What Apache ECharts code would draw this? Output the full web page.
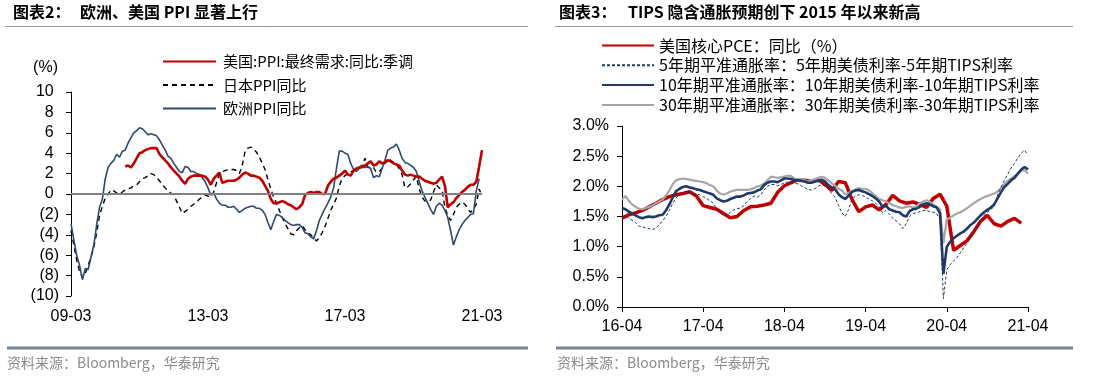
<!DOCTYPE html>
<html><head><meta charset="utf-8">
<script src="https://cdn.jsdelivr.net/npm/echarts@6/dist/echarts.min.js"></script>
<style>html,body{margin:0;padding:0;background:#fff}#c{width:1099px;height:386px}</style>
</head><body><div id="c"></div><script>
const LAT = '"Liberation Sans", "Noto Sans CJK SC", sans-serif';
const CJK = '"Noto Sans CJK SC", "Liberation Sans", sans-serif';

// ---------- Left chart data (monthly, 2009-03 .. 2021-03) ----------
const leftTickLabels = ['09-03', '13-03', '17-03', '21-03'];
const leftNames = ['美国:PPI:最终需求:同比:季调', '日本PPI同比', '欧洲PPI同比'];
const usPPI = [
  null,null,null,null,null,null,null,null,null,null,
  null,null,null,null,null,null,null,null,null,2.7,
  2.8,2.6,3.0,3.5,4.0,4.1,4.3,4.4,4.5,4.5,
  4.5,3.9,3.6,3.3,3.0,2.6,2.3,2.0,1.7,1.3,
  1.0,1.5,1.7,1.8,1.8,1.8,1.8,1.7,1.4,0.9,
  1.5,1.8,2.1,1.1,1.2,1.3,1.3,1.3,1.4,1.6,
  1.9,2.1,2.0,1.8,1.8,1.7,1.6,1.3,0.8,0.3,
  -0.5,-0.9,-0.9,-0.8,-0.7,-0.8,-1.0,-1.1,-1.3,-1.5,
  -1.3,-1.0,-0.1,0.1,0.2,0.1,0.2,0.2,0.0,0.0,
  0.8,1.2,1.5,1.6,1.8,2.0,2.3,1.9,1.8,2.3,
  2.5,2.6,2.7,2.8,3.0,3.2,2.8,2.9,3.2,3.0,
  3.1,3.3,3.2,3.0,2.9,2.8,2.3,1.9,1.8,1.9,
  1.8,1.7,1.7,1.5,1.3,1.2,1.1,1.0,1.1,1.4,
  1.7,0.8,-1.3,-1.0,-0.8,-0.4,-0.1,0.2,0.4,0.7,
  0.9,0.9,1.2,2.7,4.3
];
const japanPPI = [
  -3.6,-5.0,-6.5,-7.6,-8.2,-7.8,-7.0,-6.2,-5.2,-3.8,
  -2.1,-1.2,-0.4,0.0,0.4,0.3,0.1,0.0,0.2,0.4,
  0.5,0.6,0.8,0.9,1.2,1.5,1.6,1.8,2.0,1.9,
  1.6,1.3,0.9,0.6,0.3,0.1,-0.1,-0.7,-1.3,-1.9,
  -1.7,-1.5,-1.2,-1.0,-0.8,-0.5,-0.3,-0.1,-0.2,-0.3,
  0.2,1.1,2.0,2.2,2.3,2.4,2.4,2.4,2.3,2.0,
  2.8,4.2,4.5,4.6,4.4,4.1,3.6,3.0,2.4,1.4,
  0.5,-0.3,-0.9,-1.6,-2.3,-2.9,-3.4,-3.9,-4.0,-3.6,
  -3.3,-3.1,-3.5,-3.8,-4.0,-4.3,-4.6,-4.3,-3.8,-3.2,
  -2.4,-1.6,-1.0,-0.4,0.8,1.5,1.8,2.0,2.2,2.3,
  2.4,2.6,2.8,3.5,2.6,2.6,2.6,2.1,2.2,2.5,
  3.0,3.5,3.3,3.1,2.9,2.5,1.9,0.6,0.7,1.0,
  1.4,1.7,0.5,-0.3,-0.7,-0.7,-0.6,0.2,0.9,0.6,
  0.4,-1.3,-2.1,-2.6,-2.0,-1.3,-1.0,-0.8,-1.0,-1.4,
  -1.8,-1.5,-1.0,0.5,-0.2
];
const euroPPI = [
  -2.9,-4.5,-6.0,-7.0,-8.4,-7.3,-7.4,-6.2,-5.0,-3.0,
  -1.3,-0.5,1.5,2.6,3.0,3.3,3.9,3.6,4.2,4.3,
  5.0,5.5,6.0,6.2,6.5,6.4,6.1,5.8,5.9,5.8,
  5.7,5.3,4.8,4.3,3.7,3.5,3.0,2.6,2.2,2.1,
  2.7,2.6,2.2,2.2,2.0,1.9,1.6,1.2,0.6,-0.1,
  0.1,-0.5,-0.9,-1.1,-1.1,-1.3,-1.3,-1.2,-1.5,-1.8,
  -1.6,-1.4,-1.3,-1.2,-1.2,-1.4,-1.4,-1.6,-2.0,-2.8,
  -3.5,-2.7,-2.0,-2.1,-2.3,-2.6,-2.8,-3.0,-3.1,-3.0,
  -3.0,-3.3,-3.8,-3.9,-4.2,-4.4,-3.6,-2.6,-2.0,-1.4,
  -0.9,-0.3,0.6,2.5,4.2,4.2,4.0,3.9,3.0,2.4,
  2.2,2.5,2.6,2.6,2.7,2.5,1.6,1.8,1.7,2.5,
  3.3,4.3,4.5,4.6,4.9,4.3,3.5,3.1,3.0,2.8,
  2.6,2.2,1.2,0.3,-0.3,-0.9,-1.5,-2.0,-1.2,-0.9,
  -1.1,-1.6,-2.3,-3.6,-5.0,-4.2,-3.5,-3.0,-2.6,-2.3,
  -2.0,-1.9,0.3,1.5,null
];

// ---------- Right chart data ----------
const rightTickLabels = ['16-04', '17-04', '18-04', '19-04', '20-04', '21-04'];
const rightNames = ['美国核心PCE：同比（%）',
  '5年期平准通胀率：5年期美债利率-5年期TIPS利率',
  '10年期平准通胀率：10年期美债利率-10年期TIPS利率',
  '30年期平准通胀率：30年期美债利率-30年期TIPS利率'];
// monthly, 2016-04 .. 2021-03 (%)
const corePCE = [
  1.47,1.53,1.56,1.60,1.66,1.72,1.78,1.83,1.86,1.88,
  1.91,1.84,1.68,1.65,1.62,1.55,1.48,1.50,1.60,1.66,
  1.67,1.69,1.72,1.90,2.01,2.06,2.11,2.10,2.08,2.11,
  2.03,1.93,2.08,2.06,1.78,1.58,1.66,1.69,1.61,1.70,
  1.85,1.76,1.72,1.74,1.70,1.65,1.80,1.87,1.67,0.94,
  1.02,1.10,1.25,1.42,1.52,1.38,1.34,1.42,1.47,1.39
];
// semi-monthly (1st and 16th), 2016-04-01 .. 2021-04-01 (%)
const be5y = [
  1.50,1.52,1.47,1.44,1.40,1.34,1.33,1.31,1.30,1.28,
  1.31,1.36,1.43,1.50,1.60,1.72,1.81,1.86,1.90,1.92,
  1.90,1.89,1.87,1.86,1.83,1.80,1.76,1.72,1.62,1.56,
  1.51,1.52,1.57,1.61,1.63,1.64,1.68,1.75,1.80,1.84,
  1.82,1.86,1.94,2.00,2.03,2.03,2.01,2.03,2.06,2.07,
  2.07,2.05,2.04,2.01,1.98,1.95,1.94,1.96,2.00,2.03,
  2.00,1.95,1.88,1.82,1.68,1.56,1.50,1.62,1.79,1.84,
  1.86,1.85,1.82,1.79,1.76,1.72,1.66,1.56,1.60,1.54,
  1.47,1.43,1.38,1.30,1.38,1.50,1.55,1.56,1.58,1.60,
  1.60,1.58,1.57,1.55,1.45,0.14,0.62,0.70,0.76,0.82,
  0.90,0.98,1.06,1.16,1.24,1.34,1.44,1.52,1.57,1.62,
  1.66,1.86,1.98,2.10,2.20,2.30,2.38,2.47,2.55,2.60,
  2.52
];
const be10y = [
  1.64,1.62,1.58,1.55,1.52,1.49,1.47,1.49,1.50,1.49,
  1.50,1.52,1.53,1.60,1.70,1.82,1.92,1.96,1.99,2.00,
  1.98,1.97,1.95,1.94,1.92,1.90,1.88,1.86,1.80,1.77,
  1.75,1.76,1.79,1.81,1.83,1.83,1.85,1.88,1.89,1.90,
  1.93,1.95,2.02,2.06,2.08,2.08,2.07,2.10,2.13,2.13,
  2.12,2.10,2.10,2.09,2.08,2.06,2.06,2.08,2.09,2.11,
  2.08,2.02,1.98,1.95,1.87,1.82,1.79,1.85,1.91,1.93,
  1.94,1.92,1.90,1.87,1.84,1.80,1.75,1.66,1.68,1.62,
  1.60,1.58,1.57,1.52,1.50,1.59,1.62,1.63,1.66,1.70,
  1.72,1.70,1.67,1.65,1.55,0.55,1.00,1.08,1.14,1.18,
  1.22,1.25,1.30,1.36,1.40,1.46,1.52,1.57,1.61,1.65,
  1.70,1.80,1.90,1.99,2.04,2.10,2.14,2.21,2.28,2.32,
  2.28
];
const be30y = [
  1.78,1.84,1.76,1.70,1.66,1.63,1.62,1.64,1.66,1.68,
  1.72,1.75,1.78,1.85,1.93,2.04,2.10,2.12,2.13,2.12,
  2.11,2.10,2.09,2.08,2.07,2.05,2.02,2.00,1.93,1.88,
  1.86,1.88,1.91,1.93,1.94,1.94,1.94,1.94,1.95,1.97,
  2.00,2.01,2.05,2.10,2.16,2.15,2.14,2.15,2.16,2.18,
  2.17,2.13,2.12,2.12,2.10,2.08,2.10,2.12,2.14,2.16,
  2.14,2.10,2.05,2.01,1.96,1.93,1.87,1.89,1.92,1.95,
  1.97,1.96,1.96,1.93,1.89,1.84,1.79,1.77,1.75,1.72,
  1.69,1.67,1.65,1.64,1.66,1.67,1.65,1.67,1.72,1.75,
  1.77,1.74,1.70,1.66,1.62,1.06,1.45,1.48,1.52,1.55,
  1.57,1.60,1.64,1.68,1.72,1.76,1.79,1.82,1.84,1.86,
  1.88,1.91,1.97,2.04,2.09,2.13,2.17,2.21,2.26,2.27,
  2.21
];

// ---------- categories ----------
const leftCats = [];
for (let i = 0; i < usPPI.length; i++) {
  const mi = 2 + i; const y = 2009 + Math.floor(mi / 12); const m = mi % 12 + 1;
  leftCats.push(y + '-' + String(m).padStart(2, '0'));
}
const rightCats = [];
for (let i = 0; i < be5y.length; i++) {
  const mi = 3 + Math.floor(i / 2); const y = 2016 + Math.floor(mi / 12); const m = mi % 12 + 1;
  rightCats.push(y + '-' + String(m).padStart(2, '0') + (i % 2 ? '-16' : '-01'));
}
const pceSemi = rightCats.map((_, i) => (i % 2 === 0 && (i / 2) < corePCE.length) ? corePCE[i / 2] : null);

const chart = echarts.init(document.getElementById('c'), null, { renderer: 'canvas' });

const axisLab = { color: '#000', fontSize: 16, fontFamily: LAT };

chart.setOption({
  animation: false,
  backgroundColor: '#fff',
  textStyle: { fontFamily: LAT },
  grid: [
    { left: 71, right: 617, top: 92, bottom: 90 },
    { left: 622, right: 71, top: 126, bottom: 79 }
  ],
  legend: [
    {
      orient: 'vertical', left: 157, top: 49, itemWidth: 53, itemHeight: 16, itemGap: 8.5,
      itemStyle: { opacity: 0 },
      textStyle: { fontSize: 15, fontFamily: CJK, color: '#000', padding: [0, 0, 0, 2] },
      data: leftNames, selectedMode: false
    },
    {
      orient: 'vertical', left: 596, top: 32.5, itemWidth: 52, itemHeight: 16, itemGap: 3.8,
      itemStyle: { opacity: 0 },
      textStyle: { fontSize: 16, fontFamily: CJK, color: '#000', padding: [0, 0, 0, 0] },
      data: rightNames, selectedMode: false
    }
  ],
  xAxis: [
    {
      gridIndex: 0, type: 'category', data: leftCats, boundaryGap: false,
      axisLine: { show: false }, axisTick: { show: false },
      axisLabel: Object.assign({}, axisLab, { interval: 47, margin: 13,
        formatter: (v, i) => leftTickLabels[Math.round(i / 48)] }),
      splitLine: { show: false }
    },
    {
      gridIndex: 1, type: 'category', data: rightCats, boundaryGap: false,
      axisLine: { show: true, lineStyle: { color: '#000', width: 1 } },
      axisTick: { show: true, interval: 23, length: 5, lineStyle: { color: '#000' } },
      axisLabel: Object.assign({}, axisLab, { interval: 23, margin: 12,
        formatter: (v, i) => rightTickLabels[Math.round(i / 24)] }),
      splitLine: { show: false }
    }
  ],
  yAxis: [
    {
      gridIndex: 0, type: 'value', min: -10, max: 10, interval: 2,
      axisLine: { show: true, lineStyle: { color: '#000', width: 1 } },
      axisTick: { show: true, length: 5, lineStyle: { color: '#000' } },
      axisLabel: Object.assign({}, axisLab, { margin: 12,
        formatter: v => v < 0 ? '(' + Math.abs(v) + ')' : v + '{h|)}',
        rich: { h: { color: 'rgba(0,0,0,0)', fontSize: 16, fontFamily: LAT } } }),
      splitLine: { show: false },
      name: '(%)', nameLocation: 'end', nameGap: 16,
      nameTextStyle: { color: '#000', fontSize: 16, fontFamily: LAT, align: 'right', padding: [0, 13, 0, 0] }
    },
    {
      gridIndex: 1, type: 'value', min: 0, max: 3, interval: 0.5,
      axisLine: { show: true, lineStyle: { color: '#000', width: 1 } },
      axisTick: { show: true, length: 5, lineStyle: { color: '#000' } },
      axisLabel: Object.assign({}, axisLab, { margin: 13, formatter: v => v.toFixed(1) + '%' }),
      splitLine: { show: false }
    }
  ],
  series: [
    {
      name: leftNames[1], type: 'line', xAxisIndex: 0, yAxisIndex: 0, data: japanPPI,
      symbol: 'none', lineStyle: { color: '#000', width: 1.4, type: [5, 4] }, itemStyle: { color: '#000' },
      markLine: {
        silent: true, symbol: 'none', label: { show: false },
        lineStyle: { color: '#808080', width: 2, type: 'solid' }, data: [{ yAxis: 0 }]
      }
    },
    {
      name: leftNames[2], type: 'line', xAxisIndex: 0, yAxisIndex: 0, data: euroPPI,
      symbol: 'none', lineStyle: { color: '#2E4A6E', width: 1.6 }, itemStyle: { color: '#2E4A6E' }
    },
    {
      name: leftNames[0], type: 'line', xAxisIndex: 0, yAxisIndex: 0, data: usPPI,
      symbol: 'none', lineStyle: { color: '#C00000', width: 2.6 }, itemStyle: { color: '#C00000' }
    },
    {
      name: rightNames[0], type: 'line', xAxisIndex: 1, yAxisIndex: 1, data: pceSemi, connectNulls: true,
      symbol: 'none', lineStyle: { color: '#C00000', width: 3.5 }, itemStyle: { color: '#C00000' }
    },
    {
      name: rightNames[3], type: 'line', xAxisIndex: 1, yAxisIndex: 1, data: be30y,
      symbol: 'none', lineStyle: { color: '#A6A6A6', width: 2.2 }, itemStyle: { color: '#A6A6A6' }
    },
    {
      name: rightNames[2], type: 'line', xAxisIndex: 1, yAxisIndex: 1, data: be10y,
      symbol: 'none', lineStyle: { color: '#1F3A68', width: 2.6 }, itemStyle: { color: '#1F3A68' }
    },
    {
      name: rightNames[1], type: 'line', xAxisIndex: 1, yAxisIndex: 1, data: be5y,
      symbol: 'none', lineStyle: { color: '#1F3A68', width: 1, type: [3, 2] }, itemStyle: { color: '#1F3A68' }
    }
  ],
  graphic: [
    { type: 'text', left: 13, top: 4, style: { text: '图表2：', font: 'bold 16px ' + CJK, fill: '#000' } },
    { type: 'text', left: 80, top: 4, style: { text: '欧洲、美国 PPI 显著上行', font: 'bold 16px ' + CJK, fill: '#000' } },
    { type: 'text', left: 559, top: 4, style: { text: '图表3：', font: 'bold 16px ' + CJK, fill: '#000' } },
    { type: 'text', left: 628, top: 4, style: { text: 'TIPS 隐含通胀预期创下 2015 年以来新高', font: 'bold 16px ' + CJK, fill: '#000' } },
    { type: 'line', shape: { x1: 5, y1: 26.5, x2: 528, y2: 26.5 }, style: { stroke: '#9A9A9A', lineWidth: 1 } },
    { type: 'line', shape: { x1: 555, y1: 26.5, x2: 1073, y2: 26.5 }, style: { stroke: '#9A9A9A', lineWidth: 1 } },
    { type: 'line', shape: { x1: 7, y1: 348, x2: 528, y2: 348 }, style: { stroke: '#7A8796', lineWidth: 3 } },
    { type: 'line', shape: { x1: 556, y1: 348, x2: 1073, y2: 348 }, style: { stroke: '#7A8796', lineWidth: 3 } },
    { type: 'text', left: 7, top: 356, style: { text: '资料来源：Bloomberg，华泰研究', font: '14px ' + CJK, fill: '#8A8A8A' } },
    { type: 'text', left: 557, top: 356, style: { text: '资料来源：Bloomberg，华泰研究', font: '14px ' + CJK, fill: '#8A8A8A' } }
  ]
});
</script></body></html>
